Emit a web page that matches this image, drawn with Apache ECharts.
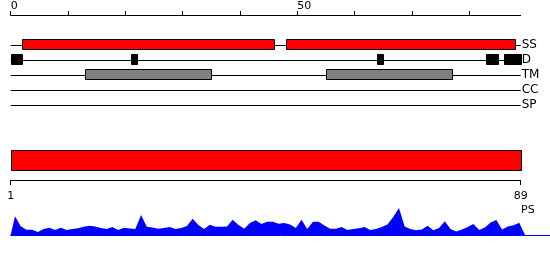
<!DOCTYPE html>
<html>
<head>
<meta charset="utf-8">
<script src="https://cdn.jsdelivr.net/npm/echarts@6/dist/echarts.min.js"></script>
<style>
html,body{margin:0;padding:0;background:#fff;}
#chart{width:550px;height:260px;}
</style>
</head>
<body>
<div id="chart"></div>
<script>
// ---- data ----
const topTicks = [0, 10, 20, 30, 40, 50, 60, 70, 80];
const topLabels = [0, 50];
const tracks = ['SP', 'CC', 'TM', 'D', 'SS'];
const ssSegments = [[2, 46], [48, 88]];
const dSegments = [[0, 2], [21, 22], [64, 65], [83, 85], [86, 89]];
const tmSegments = [[13, 35], [55, 77]];
const psRange = [1, 89];
const psValues = [
  18.7, 8.7, 5.3, 5.3, 3, 6, 7.3, 5, 7.3, 5,
  6, 6.7, 8.3, 9.3, 8.5, 7, 6, 8, 5, 7.3,
  6.5, 6, 20, 8.3, 7.5, 6.3, 7, 8, 6, 7,
  9, 16.3, 10, 6, 10.3, 8.3, 8.3, 8.5, 15.3, 10,
  6.3, 12, 14.7, 11, 13.3, 13.3, 11.3, 12, 10.5, 7,
  15.3, 6, 13.3, 13.3, 9.5, 6.3, 6.3, 8, 5, 6,
  6.8, 8, 5, 6, 8, 10.5, 18, 27, 8.5, 6,
  4.7, 5.5, 9.3, 4.7, 7, 13.7, 6, 3.5, 5.5, 8,
  11, 5, 7.5, 12.5, 15, 5.5, 8.5, 9.7, 12.3
];

// ---- build ----
const FONT = 'DejaVu Sans';
const segData = [];
ssSegments.forEach(s => segData.push({value: [s[0], s[1], 'SS'], itemStyle: {color: '#ff0000'}}));
dSegments.forEach(s => segData.push({value: [s[0], s[1], 'D'], itemStyle: {color: '#000000'}}));
tmSegments.forEach(s => segData.push({value: [s[0], s[1], 'TM'], itemStyle: {color: '#808080'}}));

const psData = [[0, 0]];
psValues.forEach((v, i) => psData.push([i + 0.75, v]));
psData.push([psValues.length + 0.75, 0]);

function segItem(params, api) {
  const p1 = api.coord([api.value(0), api.value(2)]);
  const p2 = api.coord([api.value(1), api.value(2)]);
  const x1 = Math.round(p1[0]) + 0.5, x2 = Math.round(p2[0]) + 0.5;
  const yc = Math.round(p1[1]);
  return {
    type: 'rect',
    shape: {x: x1, y: yc - 5.5, width: x2 - x1, height: 10},
    style: {fill: api.visual('color'), stroke: '#000', lineWidth: 1}
  };
}

function rangeItem(params, api) {
  const p1 = api.coord([api.value(0), 1]);
  const p2 = api.coord([api.value(1), 1]);
  const x1 = Math.round(p1[0]) + 0.5, x2 = Math.round(p2[0]) + 0.5;
  const y1 = Math.round(p1[1]) + 0.5;
  return {
    type: 'rect',
    shape: {x: x1, y: y1, width: x2 - x1, height: 20},
    style: {fill: '#ff0000', stroke: '#000', lineWidth: 1}
  };
}

const chart = echarts.init(document.getElementById('chart'), null, {renderer: 'canvas'});
chart.setOption({
  animation: false,
  backgroundColor: '#fff',
  textStyle: {fontFamily: FONT},
  title: [{
    text: 'PS', left: 521, top: 205,
    textStyle: {fontFamily: FONT, fontSize: 11, fontWeight: 'normal', color: '#000'}, padding: 0
  }],
  grid: [
    {left: 10.7, width: 510, top: 45, height: 60},
    {left: 10.7, width: 510, top: 150, height: 30},
    {left: 10.7, width: 539.3, top: 205, height: 30}
  ],
  xAxis: [
    {
      gridIndex: 0, type: 'value', min: 0, max: 89, position: 'top', offset: 30,
      axisLine: {show: true, lineStyle: {color: '#000', width: 1}},
      axisTick: {show: true, length: 4, customValues: topTicks, lineStyle: {color: '#000'}},
      axisLabel: {show: true, customValues: topLabels, align: 'left', margin: 3, fontSize: 11, color: '#000', fontFamily: FONT},
      splitLine: {show: false}
    },
    {
      gridIndex: 1, type: 'value', min: psRange[0], max: psRange[1], position: 'bottom',
      axisLine: {show: true, lineStyle: {color: '#000', width: 1}},
      axisTick: {show: true, length: 5, customValues: psRange, lineStyle: {color: '#000'}},
      axisLabel: {show: true, customValues: psRange, margin: 11, fontSize: 11, color: '#000', fontFamily: FONT},
      splitLine: {show: false}
    },
    {
      gridIndex: 2, type: 'value', min: 0, max: 539.3 / (510 / 89),
      axisLine: {show: true, lineStyle: {color: '#0000ff', width: 1}},
      axisTick: {show: false}, axisLabel: {show: false}, splitLine: {show: false}
    }
  ],
  yAxis: [
    {
      gridIndex: 0, type: 'category', data: tracks, boundaryGap: false, position: 'right',
      axisLine: {show: false}, axisTick: {show: false},
      axisLabel: {show: true, interval: 0, margin: 1, fontSize: 12, color: '#000', fontFamily: FONT},
      splitLine: {show: true, interval: 0, lineStyle: {color: '#000', width: 1}}
    },
    {gridIndex: 1, type: 'value', min: 0, max: 1, show: false},
    {gridIndex: 2, type: 'value', min: 0, max: 30, show: false}
  ],
  series: [
    {
      type: 'custom', xAxisIndex: 0, yAxisIndex: 0, renderItem: segItem,
      encode: {x: [0, 1], y: 2}, data: segData, clip: false
    },
    {
      type: 'custom', xAxisIndex: 1, yAxisIndex: 1, renderItem: rangeItem,
      encode: {x: [0, 1]}, data: [psRange], clip: false
    },
    {
      type: 'line', xAxisIndex: 2, yAxisIndex: 2, data: psData,
      symbol: 'none', lineStyle: {width: 0}, areaStyle: {color: '#0000ff', opacity: 1},
      itemStyle: {color: '#0000ff'}
    }
  ]
});
</script>
</body>
</html>
